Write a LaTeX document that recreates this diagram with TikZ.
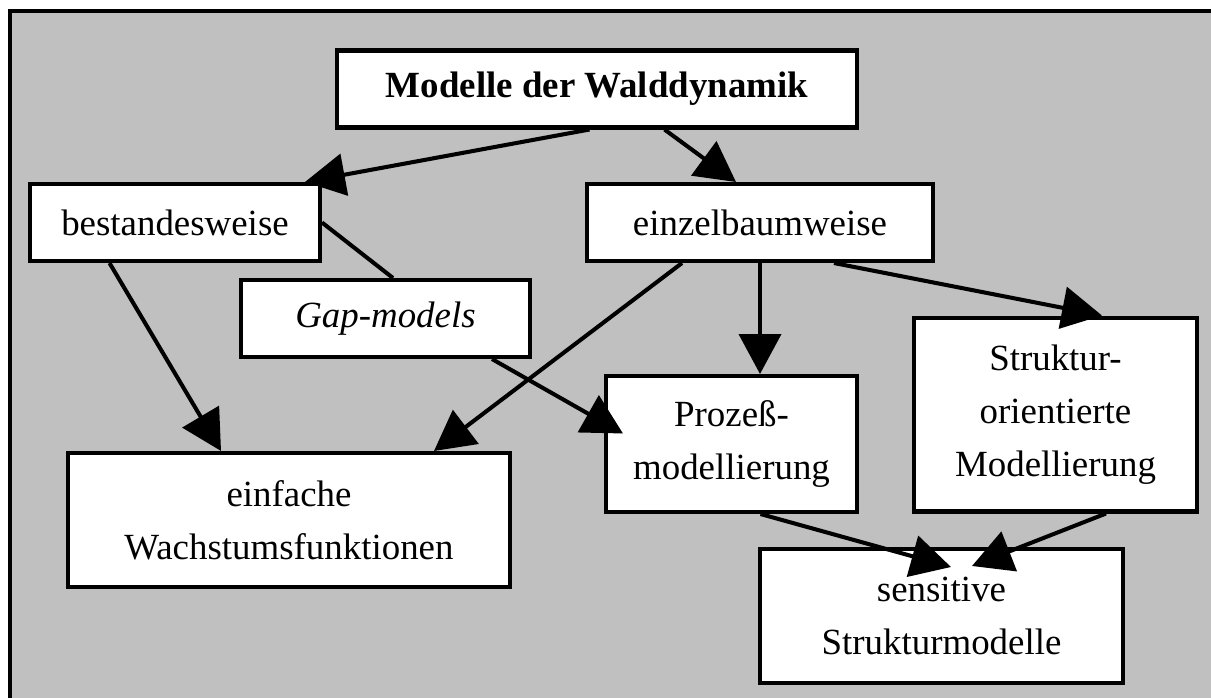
\documentclass[tikz,border=0pt]{standalone}
\usepackage{fontspec}
\setmainfont{Liberation Serif}
\usetikzlibrary{arrows.meta, positioning, calc}
\definecolor{panelgray}{RGB}{192, 192, 192}

\begin{document}
\begin{tikzpicture}[x=0.02cm, y=-0.02cm,
	box/.style={draw, line width=2.3pt, fill=white, inner sep=0pt, align=center,
		font=\fontsize{21}{30}\selectfont},
	arr/.style={line width=2.3pt, -{Triangle[length=0.8cm, width=0.84cm]}},
	lnk/.style={line width=2.3pt}
]
	\useasboundingbox (0,0) rectangle (1211,697);
	\draw[line width=2.3pt, fill=panelgray] (10,11) rectangle (1240,730);

	\node[box, minimum width=10.4cm, minimum height=1.54cm,
		font=\fontsize{21}{30}\selectfont\bfseries] (modelle) at (597,89) {Modelle der Walddynamik};
	\node[box, minimum width=5.8cm, minimum height=1.54cm] (bestand) at (175,222.5) {bestandesweise};
	\node[box, minimum width=6.92cm, minimum height=1.54cm] (einzel) at (760,222.5) {einzelbaumweise};
	\node[box, minimum width=5.78cm, minimum height=1.54cm] (gap) at (385.5,318.5) {\textit{Gap-models}};
	\node[box, minimum width=5.66cm, minimum height=3.88cm] (struktur) at (1055.5,414.5) {Struktur-\\orientierte\\Modellierung};
	\node[box, minimum width=5.02cm, minimum height=2.72cm] (prozess) at (731.5,444) {Prozeß-\\modellierung};
	\node[box, minimum width=8.84cm, minimum height=2.68cm] (einfach) at (289,520) {einfache\\Wachstumsfunktionen};
	\node[box, minimum width=7.26cm, minimum height=2.68cm] (sensitiv) at (941.5,616) {sensitive\\Strukturmodelle};

	\draw[arr] ([xshift=-0.15cm]modelle.south) -- ([xshift=-0.34cm]bestand.north east);
	\draw[arr] ([xshift=1.35cm]modelle.south) -- ([xshift=-0.48cm]einzel.north);
	\draw[arr] ([xshift=-1.31cm]bestand.south) -- ([xshift=-1.36cm]einfach.north);
	\draw[lnk] (bestand.east) -- ([xshift=0.15cm]gap.north);
	\draw[arr] ([xshift=2.13cm]gap.south) -- ([xshift=0.38cm, yshift=0.21cm]prozess.west);
	\draw[arr] ([xshift=-1.56cm]einzel.south) -- ([xshift=2.9cm]einfach.north);
	\draw[arr] (einzel.south) -- (einzel.south |- prozess.north);
	\draw[arr] ([xshift=1.48cm]einzel.south) -- ([xshift=0.93cm]struktur.north);
	\draw[arr] ([xshift=0.58cm]prozess.south) -- ([xshift=0.19cm, yshift=-0.4cm]sensitiv.north);
	\draw[arr] ([xshift=1.01cm]struktur.south) -- ([xshift=0.61cm, yshift=-0.38cm]sensitiv.north);
\end{tikzpicture}
\end{document}
